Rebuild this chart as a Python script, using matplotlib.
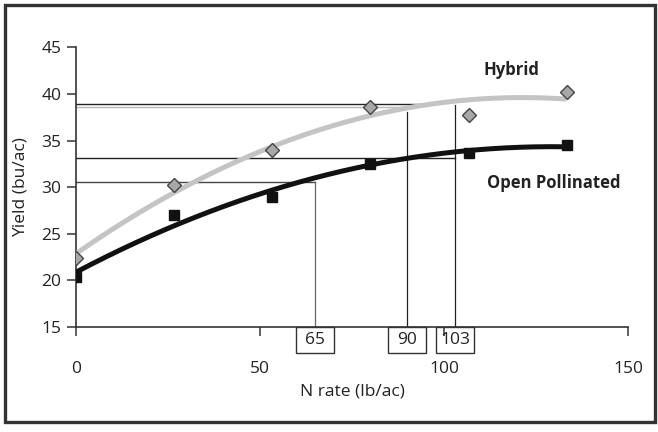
import numpy as np
import matplotlib
matplotlib.use('Agg')
import matplotlib.pyplot as plt
from matplotlib.patches import Rectangle

# --- Data ---
n_rate = [0, 26.7, 53.3, 80, 106.7, 133.3]
hybrid = [22.4, 30.2, 34.0, 38.6, 37.7, 40.2]
open_poll = [20.4, 27.0, 28.95, 32.5, 33.7, 34.5]

# reference lines: horizontal yield levels and where they stop
h_yield = [30.6, 33.1, 38.55, 38.9]
h_end = [65, 103, 88, 94]
h_color = ['#444444', '#222222', '#b8b8b8', '#222222']

# vertical N rates and the yield at which they start
v_rate = [65, 90, 103]
v_top = [30.6, 38.1, 38.8]
v_color = ['#666666', '#222222', '#222222']
v_label = ['65', '90', '103']

x_ticks = [0, 50, 100, 150]
y_ticks = [15, 20, 25, 30, 35, 40, 45]

plt.rcParams['font.family'] = ['Open Sans', 'DejaVu Sans']
txt = '#222222'

fig = plt.figure(figsize=(6.58, 4.32), dpi=100)
ax = fig.add_axes([0.1155, 0.2431, 0.8389, 0.6474])

# quadratic trend lines through the points
xs = np.linspace(n_rate[0], n_rate[-1], 200)
hyb_fit = np.polyval(np.polyfit(n_rate, hybrid, 2), xs)
op_fit = np.polyval(np.polyfit(n_rate, open_poll, 2), xs)

for y, xe, c in zip(h_yield, h_end, h_color):
    ax.plot([0, xe], [y, y], color=c, lw=1.0, zorder=2)
for x, yt, c in zip(v_rate, v_top, v_color):
    ax.plot([x, x], [15, yt], color=c, lw=0.9, zorder=2)

ax.plot(xs, hyb_fit, color='#c4c4c4', lw=3.6, solid_capstyle='butt', zorder=3)
ax.plot(xs, op_fit, color='#111111', lw=3.6, solid_capstyle='butt', zorder=3)
ax.plot(n_rate, hybrid, 'D', ms=7, mfc='#a8a8a8', mec='#444444', mew=1.0, ls='none', zorder=4)
ax.plot(n_rate, open_poll, 's', ms=7, mfc='#111111', mec='#111111', ls='none', zorder=4)

# boxed values under the axis
for x, lab in zip(v_rate, v_label):
    ax.add_patch(Rectangle((x - 5.1, 15), 10.2, -2.8, fill=False, ec='#333333',
                           lw=1.0, clip_on=False, zorder=5))
    ax.text(x, 13.55, lab, ha='center', va='center', fontsize=12.5, color=txt)

ax.text(118.4, 42.6, 'Hybrid', ha='center', va='center', fontsize=12,
        fontweight='bold', color=txt)
ax.text(129.7, 30.45, 'Open Pollinated', ha='center', va='center', fontsize=12,
        fontweight='bold', color=txt)

ax.set_xlim(0, 150)
ax.set_ylim(15, 45)
ax.set_xticks(x_ticks)
ax.set_yticks(y_ticks)
for s in ['top', 'right']:
    ax.spines[s].set_visible(False)
for s in ['left', 'bottom']:
    ax.spines[s].set_color('#333333')
    ax.spines[s].set_linewidth(1.2)
ax.tick_params(axis='both', direction='out', length=6.5, width=1.1, color='#333333',
               labelsize=12.5, labelcolor=txt)
ax.tick_params(axis='x', pad=18)
ax.tick_params(axis='y', pad=4)
ax.set_xlabel('N rate (lb/ac)', fontsize=12.5, color=txt, labelpad=5)
ax.set_ylabel('Yield (bu/ac)', fontsize=12.5, color=txt, labelpad=9)

# outer frame
fig.add_artist(Rectangle((5 / 658, 10 / 432), 650 / 658, 417 / 432, fill=False,
                         ec='#333333', lw=2.4, transform=fig.transFigure))

fig.savefig('out.png', dpi=100)
